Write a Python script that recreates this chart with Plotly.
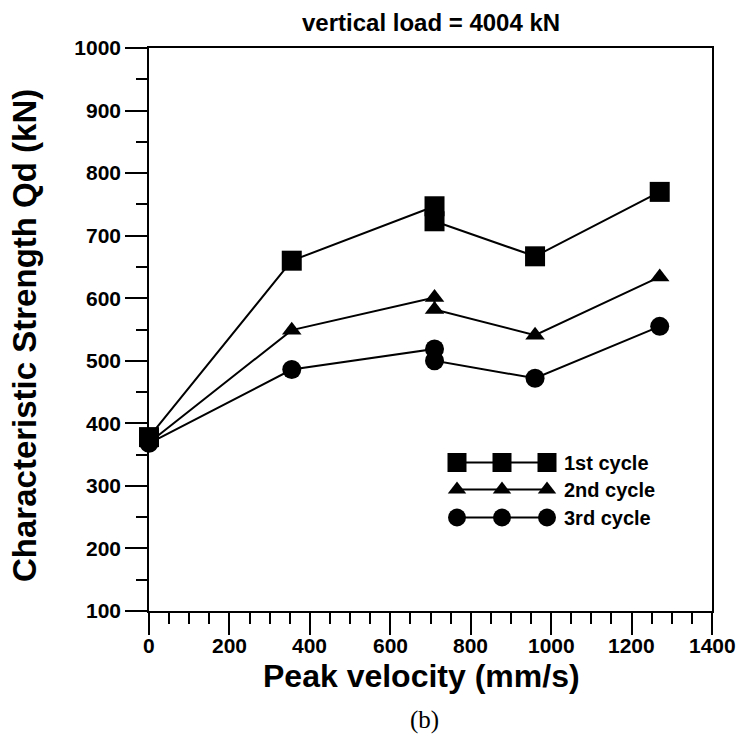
import plotly.graph_objects as go

# Peak velocity (mm/s) of each test run
velocity = [0, 355, 710, 710, 960, 1270]

# Characteristic strength Qd (kN) for each loading cycle
qd_cycle1 = [378, 660, 747, 723, 667, 770]
qd_cycle2 = [369, 549, 601, 582, 541, 634]
qd_cycle3 = [368, 486, 519, 500, 472, 555]

cycle_names = ["1st cycle", "2nd cycle", "3rd cycle"]
cycle_symbols = ["square", "triangle-up", "circle"]
cycle_sizes = [20, 17, 19]

x_ticks = list(range(0, 1401, 200))
y_ticks = list(range(100, 1001, 100))

FONT = "Liberation Sans, Arial, sans-serif"
W, H = 740, 750
L, R, T, B = 149, 712, 48, 611  # plot box in pixels

fig = go.Figure()

for vals, name, sym, size in zip([qd_cycle1, qd_cycle2, qd_cycle3],
                                 cycle_names, cycle_symbols, cycle_sizes):
    fig.add_trace(go.Scatter(
        x=velocity, y=vals, mode="lines+markers", name=name,
        line=dict(color="black", width=2),
        marker=dict(symbol=sym, size=size, color="black"),
        showlegend=False, cliponaxis=False,
    ))

# Hand-drawn key: three markers joined by a line, in a pixel-based overlay
key_rows = [462.5, 489.5, 517.5]
key_marks = [457, 502, 547]
key_text_x = 562
for name, sym, size, yrow in zip(cycle_names, cycle_symbols, cycle_sizes, key_rows):
    fig.add_trace(go.Scatter(
        x=key_marks, y=[yrow] * 3, mode="lines+markers",
        line=dict(color="black", width=2),
        marker=dict(symbol=sym, size=size - 1, color="black"),
        xaxis="x2", yaxis="y2", showlegend=False, hoverinfo="skip",
    ))
    fig.add_annotation(
        x=key_text_x, y=yrow, xref="x2", yref="y2", text=f"<b>{name}</b>",
        showarrow=False, xanchor="left", yanchor="middle",
        font=dict(family=FONT, size=20, color="black"),
    )

axis_common = dict(
    showline=True, linecolor="black", linewidth=1.5, mirror=True,
    ticks="outside", ticklen=22, tickwidth=1.5, tickcolor="black",
    showgrid=False, zeroline=False, automargin=False,
    tickfont=dict(family=FONT, size=21, color="black", weight="bold"),
)

fig.update_layout(
    width=W, height=H,
    margin=dict(l=L, r=W - R, t=T, b=H - B),
    paper_bgcolor="white", plot_bgcolor="white",
    xaxis=dict(range=[0, 1400], tickvals=x_ticks, showticklabels=False,
               minor=dict(tickvals=list(range(0, 1401, 50)), ticklen=11,
                          tickwidth=1.5, tickcolor="black", ticks="outside"),
               **axis_common),
    yaxis=dict(range=[100, 1000], tickvals=y_ticks,
               minor=dict(tickvals=list(range(100, 1001, 50)), ticklen=11,
                          tickwidth=1.5, tickcolor="black", ticks="outside"),
               **axis_common),
    xaxis2=dict(range=[L, R], overlaying="x", visible=False, fixedrange=True),
    yaxis2=dict(range=[B, T], overlaying="y", visible=False, fixedrange=True),
    showlegend=False,
)

def py_to_paper(py):
    return (B - py) / (B - T)

def px_to_paper(px):
    return (px - L) / (R - L)

# x tick labels, set a little closer to the ticks than the default
for v in x_ticks:
    fig.add_annotation(x=v, y=py_to_paper(645), xref="x", yref="paper",
                       text=f"<b>{v}</b>", showarrow=False,
                       xanchor="center", yanchor="middle", borderpad=0,
                       font=dict(family=FONT, size=21, color="black"))

# Title and axis titles
fig.add_annotation(x=0.5, y=py_to_paper(22), xref="paper", yref="paper",
                   text="<b>vertical load = 4004 kN</b>", showarrow=False,
                   xanchor="center", yanchor="middle",
                   font=dict(family=FONT, size=24, color="black"))
fig.add_annotation(x=px_to_paper(421), y=py_to_paper(676), xref="paper", yref="paper",
                   text="<b>Peak velocity (mm/s)</b>", showarrow=False,
                   xanchor="center", yanchor="middle", borderpad=0,
                   font=dict(family=FONT, size=32, color="black"))
fig.add_annotation(x=px_to_paper(24), y=py_to_paper(336), xref="paper", yref="paper",
                   text="<b>Characteristic Strength Qd (kN)</b>", showarrow=False,
                   textangle=-90, xanchor="center", yanchor="middle",
                   font=dict(family=FONT, size=33, color="black"))
fig.add_annotation(x=px_to_paper(424), y=py_to_paper(720), xref="paper", yref="paper",
                   text="(b)", showarrow=False, xanchor="center", yanchor="middle",
                   font=dict(family="Liberation Serif, Times New Roman, serif",
                             size=25, color="black"))

fig.write_html("out.html")
